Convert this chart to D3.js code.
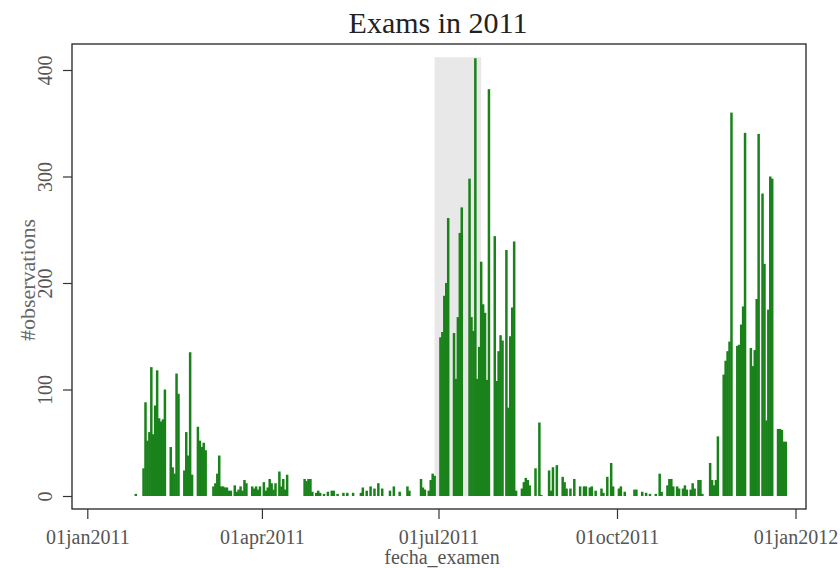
<!DOCTYPE html>
<html>
<head>
<meta charset="utf-8">
<script src="https://cdn.jsdelivr.net/npm/d3@7"></script>
<style>
  body { margin: 0; background: #fff; }
  text { font-family: "Liberation Serif", serif; }
</style>
</head>
<body>
<div id="chart"></div>
<script>
// Days counted from 01jan2011, and the number of exams on that day
const examDay = [25, 29, 30, 31, 32, 33, 34, 35, 36, 37, 38, 39, 40, 43, 44, 45, 46, 47, 50, 51, 52, 53, 54,
  57, 58, 59, 60, 61, 65, 66, 67, 68, 69, 70, 71, 72, 73, 74, 76, 77, 78, 79, 80, 81, 82, 85, 86, 87, 88, 89,
  91, 92, 93, 94, 95, 96, 97, 99, 100, 101, 102, 103, 112, 113, 114, 115, 116, 118, 119, 120, 122, 124, 126,
  127, 129, 132, 134, 137, 141, 142, 144, 146, 148, 150, 152, 156, 158, 161, 165, 166, 172, 173, 174, 176,
  177, 178, 179, 182, 183, 184, 185, 186, 189, 190, 191, 192, 193, 197, 198, 199, 200, 201, 202, 203, 204,
  205, 206, 207, 210, 211, 212, 213, 214, 216, 217, 218, 219, 220, 221, 224, 225, 226, 227, 228, 231, 233,
  234, 238, 239, 240, 242, 245, 246, 247, 249, 251, 254, 256, 257, 259, 260, 262, 265, 266, 268, 270, 271,
  274, 275, 277, 282, 283, 286, 288, 290, 293, 295, 296, 299, 300, 301, 302, 304, 305, 307, 308, 309, 311,
  312, 313, 315, 316, 317, 321, 322, 323, 324, 325, 328, 329, 330, 331, 332, 335, 336, 337, 338, 339, 342,
  343, 344, 345, 346, 348, 349, 350, 351, 352, 353, 356, 357, 358, 359, 360];
const examCount = [2, 26, 88, 52, 60, 121, 58, 85, 118, 73, 70, 72, 100, 46, 27, 21, 115, 96, 24, 60, 38, 135, 20,
  65, 52, 46, 50, 43, 9, 12, 21, 38, 9, 9, 8, 8, 5, 5, 10, 4, 6, 9, 5, 15, 12, 9, 7, 9, 6, 9,
  13, 5, 8, 16, 12, 6, 12, 23, 9, 16, 6, 20, 16, 14, 16, 16, 4, 3, 5, 3, 2, 4, 5,
  5, 2, 3, 3, 3, 3, 8, 5, 9, 7, 12, 7, 5, 9, 4, 9, 5, 16, 8, 6, 5,
  15, 21, 19, 149, 154, 188, 200, 261, 153, 110, 168, 247, 271, 298, 168, 155, 411, 110, 140, 220, 180,
  172, 109, 382, 244, 108, 136, 151, 146, 231, 83, 150, 177, 239, 5, 7, 13, 17, 15, 10, 26, 69,
  1, 24, 5, 27, 29, 18, 13, 7, 7, 16, 9, 9, 9, 8, 9, 5, 7, 3, 18, 31, 9,
  7, 9, 4, 6, 6, 4, 3, 2, 2, 21, 4, 10, 16, 16, 9, 9, 7, 7, 10, 6, 6,
  12, 7, 15, 15, 2, 31, 15, 10, 15, 56, 114, 127, 136, 145, 360, 141, 142, 161, 178, 341, 139,
  122, 137, 185, 340, 284, 218, 71, 175, 300, 298, 63, 63, 62, 51, 51];

// Highlighted period (grey band)
const shadeStart = "2011-06-29";
const shadeEnd = "2011-07-23";
const shadeTop = 412;

const xTickDates = ["2011-01-01", "2011-04-01", "2011-07-01", "2011-10-01", "2012-01-01"];
const xTickLabels = ["01jan2011", "01apr2011", "01jul2011", "01oct2011", "01jan2012"];
const yTicks = [0, 100, 200, 300, 400];

const width = 840, height = 568;
const frame = {left: 72, right: 806, top: 44, bottom: 509};
const green = "#1a821a";

const parse = d3.utcParse("%Y-%m-%d");
const start = parse("2011-01-01");
const data = examDay.map((d, i) => ({date: d3.utcDay.offset(start, d), n: examCount[i]}));

const x = d3.scaleUtc()
  .domain([parse("2011-01-01"), parse("2012-01-01")])
  .range([87.3, 795.5]);

const y = d3.scaleLinear()
  .domain([0, 400])
  .range([496, 70]);

const svg = d3.select("#chart").append("svg")
  .attr("width", width)
  .attr("height", height);

// grey band
svg.append("rect")
  .attr("x", x(parse(shadeStart)))
  .attr("width", x(parse(shadeEnd)) - x(parse(shadeStart)))
  .attr("y", y(shadeTop))
  .attr("height", y(0) - y(shadeTop))
  .attr("fill", "#e8e8e8");

// spikes
svg.append("g")
  .selectAll("rect")
  .data(data)
  .join("rect")
    .attr("x", d => x(d.date) - 1.25)
    .attr("width", 2.5)
    .attr("y", d => y(d.n))
    .attr("height", d => y(0) - y(d.n))
    .attr("fill", green);

// frame
svg.append("rect")
  .attr("x", frame.left)
  .attr("y", frame.top)
  .attr("width", frame.right - frame.left)
  .attr("height", frame.bottom - frame.top)
  .attr("fill", "none")
  .attr("stroke", "#222")
  .attr("stroke-width", 1.3);

// y axis
const yAxis = svg.append("g")
  .attr("transform", `translate(${frame.left},0)`)
  .call(d3.axisLeft(y).tickValues(yTicks).tickSize(9).tickPadding(0).tickFormat(d3.format("d")))
  .call(g => g.select(".domain").remove())
  .call(g => g.selectAll(".tick line").attr("stroke", "#333").attr("stroke-width", 1.2));
yAxis.selectAll(".tick text")
  .attr("x", null).attr("dy", null)
  .attr("transform", "translate(-20,0) rotate(-90)")
  .attr("text-anchor", "middle")
  .attr("fill", "#555")
  .style("font-size", "20px");

// x axis
const xAxis = svg.append("g")
  .attr("transform", `translate(0,${frame.bottom})`)
  .call(d3.axisBottom(x).tickValues(xTickDates.map(parse)).tickSize(10)
    .tickFormat((d, i) => xTickLabels[i]))
  .call(g => g.select(".domain").remove())
  .call(g => g.selectAll(".tick line").attr("stroke", "#333").attr("stroke-width", 1.2));
xAxis.selectAll(".tick text")
  .attr("y", 35).attr("dy", null)
  .attr("fill", "#555")
  .style("font-size", "20px");

// titles
svg.append("text")
  .attr("x", 438).attr("y", 33)
  .attr("text-anchor", "middle")
  .attr("fill", "#222")
  .style("font-size", "30px")
  .text("Exams in 2011");

svg.append("text")
  .attr("x", 442).attr("y", 564)
  .attr("text-anchor", "middle")
  .attr("fill", "#555")
  .style("font-size", "20px")
  .text("fecha_examen");

svg.append("text")
  .attr("transform", "translate(35,280) rotate(-90)")
  .attr("text-anchor", "middle")
  .attr("fill", "#666")
  .style("font-size", "22px")
  .text("#observations");
</script>
</body>
</html>
